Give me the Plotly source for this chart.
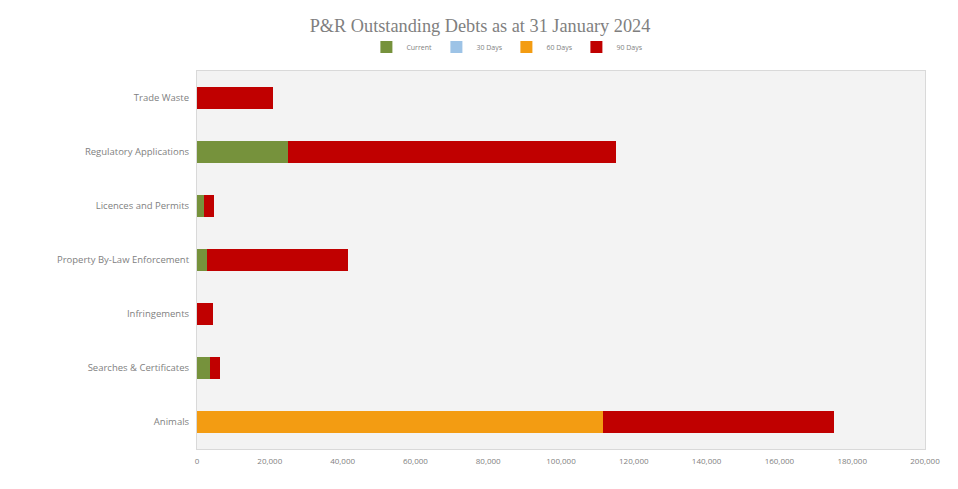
import plotly.graph_objects as go

categories = ["Trade Waste", "Regulatory Applications", "Licences and Permits",
              "Property By-Law Enforcement", "Infringements",
              "Searches & Certificates", "Animals"]
current = [0, 24900, 2000, 2700, 0, 3500, 0]
days30 = [0, 0, 0, 0, 0, 0, 0]
days60 = [0, 0, 0, 0, 0, 0, 111500]
days90 = [21000, 90100, 2600, 38800, 4400, 2800, 63400]
tick_vals = [0, 20000, 40000, 60000, 80000, 100000, 120000, 140000, 160000, 180000, 200000]

series = [
    ("Current", current, "#76923c"),
    ("30 Days", days30, "#9dc3e6"),
    ("60 Days", days60, "#f39c12"),
    ("90 Days", days90, "#c00000"),
]

fig = go.Figure()
for name, vals, color in series:
    fig.add_trace(go.Bar(
        y=categories, x=vals, name=name, orientation="h",
        marker=dict(color=color, line=dict(width=0)),
    ))

fig.update_layout(
    barmode="stack",
    bargap=0.6,
    width=944, height=475,
    margin=dict(l=189, r=25, t=63, b=34),
    paper_bgcolor="white",
    plot_bgcolor="#f3f3f3",
    title=dict(text="P&R Outstanding Debts as at 31 January 2024",
               x=0.5, xanchor="center", y=0.964, yanchor="middle",
               font=dict(family="Liberation Serif", size=18.3, color="#7f7f7f")),
    legend=dict(orientation="h", x=0.425, xanchor="center", y=1.0635, yanchor="middle",
                font=dict(family="Open Sans", size=7, color="#7f7f7f"),
                itemwidth=30, entrywidth=25, entrywidthmode="pixels",
                traceorder="normal", bgcolor="rgba(0,0,0,0)"),
    font=dict(family="Open Sans", color="#7f7f7f"),
)
fig.update_xaxes(range=[0, 200000], tickvals=tick_vals, tickformat=",",
                 showgrid=False, zeroline=False,
                 tickfont=dict(size=8, color="#7f7f7f"),
                 showline=True, linecolor="#d9d9d9", mirror=True, ticks="",
                 ticklabelstandoff=4)
fig.update_yaxes(categoryorder="array", categoryarray=categories[::-1],
                 showgrid=False, tickfont=dict(size=9.5, color="#7f7f7f"),
                 showline=True, linecolor="#d9d9d9", mirror=True, ticks="", ticklabelstandoff=5)

fig.write_html("out.html")
